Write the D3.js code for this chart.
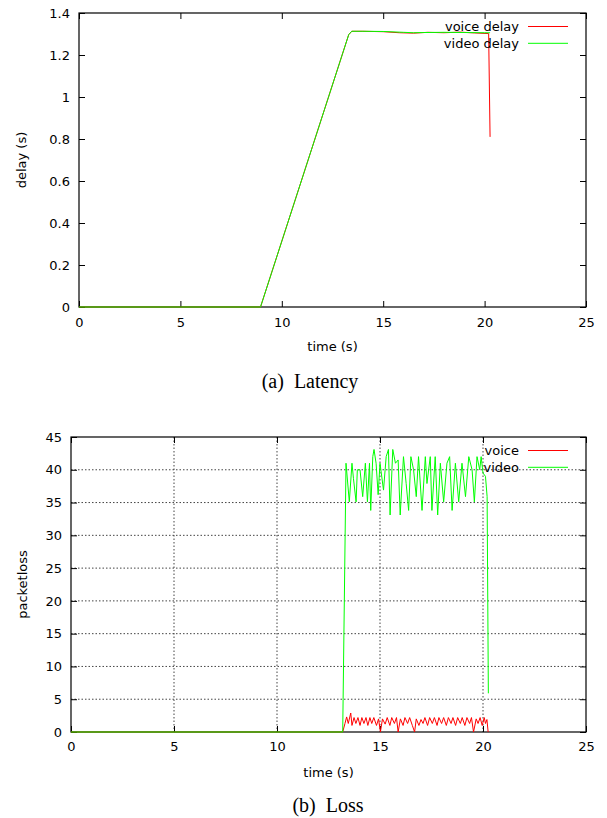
<!DOCTYPE html>
<html>
<head>
<meta charset="utf-8">
<script src="https://cdn.jsdelivr.net/npm/d3@7/dist/d3.min.js"></script>
<style>
    body { margin: 0; background: #fff; }
    svg { display: block; }
    .tick text { font-family: "DejaVu Sans", sans-serif; font-size: 13px; fill: #000; }
    .lbl { font-family: "DejaVu Sans", sans-serif; font-size: 13px; fill: #000; }
    .cap { font-family: "Liberation Serif", serif; font-size: 20px; fill: #000; }
</style>
</head>
<body>
<script>
// (a) latency, seconds
const voiceDelayT = [0, 5, 8.95, 13.3, 13.45, 14, 15, 15.8, 16.5, 17.2, 18, 18.8, 19.5, 20.2, 20.27]
const voiceDelay = [0, 0, 0, 1.297, 1.313, 1.313, 1.311, 1.306, 1.304, 1.308, 1.306, 1.309, 1.305, 1.302, 0.81]
const videoDelayT = [0, 5, 8.95, 13.3, 13.45, 14, 15, 16, 16.5, 17, 18, 19, 20, 20.27]
const videoDelay = [0, 0, 0, 1.297, 1.313, 1.313, 1.312, 1.308, 1.306, 1.307, 1.308, 1.307, 1.306, 1.306]

// (b) loss
const voiceLossT = [0, 13.19, 13.3, 13.38, 13.46, 13.58, 13.64, 13.74, 13.83, 13.93, 14.03, 14.12, 14.22, 14.32, 14.41,
    14.51, 14.6, 14.7, 14.83, 14.93, 15.02, 15.12, 15.25, 15.35, 15.48, 15.57, 15.7, 15.8, 15.88, 15.99, 16.12,
    16.21, 16.34, 16.44, 16.57, 16.68, 16.76, 16.89, 16.99, 17.09, 17.18, 17.31, 17.41, 17.54, 17.64, 17.77,
    17.86, 17.99, 18.09, 18.22, 18.32, 18.45, 18.54, 18.67, 18.77, 18.9, 18.99, 19.12, 19.22, 19.35, 19.44,
    19.54, 19.67, 19.76, 19.86, 19.96, 20.06, 20.12, 20.19, 20.25]
const voiceLoss = [0, 0, 1.3, 2.3, 1.3, 2.9, 1, 2.2, 1.3, 2.2, 1, 2.2, 1.3, 2.2, 1,
    2.2, 1.3, 2.2, 1, 2, 0, 2, 1.2, 2.2, 1, 2.2, 1.3, 2.2, 0, 2, 1,
    2.2, 1.3, 2.2, 1, 0, 2, 1, 1.9, 1.3, 2.2, 1, 2.2, 1.3, 2.2, 1,
    2.2, 1.3, 2.2, 1, 2.2, 1.3, 2.2, 1, 2.2, 1.3, 2.2, 1, 2.2, 1.3, 2.2,
    0, 2, 1.3, 2.2, 1, 2.2, 1.3, 1.9, 0]
const videoLossT = [0, 13.19, 13.35, 13.51, 13.64, 13.71, 13.84, 13.9, 14.03, 14.16, 14.29, 14.39, 14.49, 14.55, 14.65,
    14.71, 14.81, 14.91, 15.0, 15.17, 15.3, 15.41, 15.49, 15.62, 15.75, 15.88, 15.98, 16.14, 16.27, 16.39,
    16.5, 16.63, 16.76, 16.87, 17.04, 17.2, 17.28, 17.44, 17.52, 17.68, 17.8, 17.93, 18.09, 18.25, 18.38,
    18.5, 18.66, 18.82, 18.98, 19.15, 19.31, 19.47, 19.58, 19.71, 19.84, 19.91, 20.0, 20.12, 20.2, 20.26]
const videoLoss = [0, 0, 41, 35.1, 41, 38.7, 35.1, 40, 40, 35.9, 41, 35.1, 41, 33.8, 42,
    43.1, 41, 36.2, 41, 36.9, 42, 43.1, 33.1, 43.1, 41, 41.5, 33.1, 42, 37.9, 33.8,
    42, 40, 35.9, 42, 33.8, 42, 37.9, 42, 33.8, 42, 33.1, 41, 35.1, 41, 42,
    33.8, 41, 35.1, 41, 35.9, 42, 40, 35.1, 42, 40, 42, 39.5, 39, 35.9, 5.9]

const xTicks = [0, 5, 10, 15, 20, 25]
const delayTicks = [0, 0.2, 0.4, 0.6, 0.8, 1, 1.2, 1.4]
const lossTicks = [0, 5, 10, 15, 20, 25, 30, 35, 40, 45]

const svg = d3.select("body").append("svg")
    .attr("width", 607)
    .attr("height", 818)

const zip = (t, v) => t.map((d, i) => ({ t: d, v: v[i] }))

function drawPanel(opt) {
    const { left, top, right, bottom } = opt
    const width = right - left
    const height = bottom - top
    const g = svg.append("g").attr("transform", `translate(${left}, ${top})`)

    const x = d3.scaleLinear().domain([0, 25]).range([0, width])
    const y = d3.scaleLinear().domain(opt.yDomain).range([height, 0])

    // dotted grid
    if (opt.grid) {
        g.selectAll(".vgrid")
            .data(xTicks.slice(1, -1))
            .join("line")
            .attr("x1", d => x(d)).attr("x2", d => x(d))
            .attr("y1", 0).attr("y2", height)
            .attr("stroke", "#444")
            .attr("stroke-width", 1)
            .attr("stroke-dasharray", "1.5,2")
        g.selectAll(".hgrid")
            .data(opt.yTicks.slice(1, -1))
            .join("line")
            .attr("x1", 0).attr("x2", width)
            .attr("y1", d => y(d)).attr("y2", d => y(d))
            .attr("stroke", "#444")
            .attr("stroke-width", 1)
            .attr("stroke-dasharray", "1.5,2")
    }

    // axes, ticks pointing inward
    g.append("g")
        .attr("transform", `translate(0, ${height})`)
        .call(d3.axisBottom(x).tickValues(xTicks).tickSize(-6).tickPadding(opt.xPad))
        .call(a => a.select(".domain").remove())
    g.append("g")
        .call(d3.axisTop(x).tickValues(xTicks).tickSize(-6).tickFormat(""))
        .call(a => a.select(".domain").remove())
    g.append("g")
        .call(d3.axisLeft(y).tickValues(opt.yTicks).tickSize(-6).tickPadding(9).tickFormat(d => String(d)))
        .call(a => a.select(".domain").remove())
    g.append("g")
        .attr("transform", `translate(${width}, 0)`)
        .call(d3.axisRight(y).tickValues(opt.yTicks).tickSize(-6).tickFormat(""))
        .call(a => a.select(".domain").remove())
    g.selectAll(".tick line").attr("stroke", "#000")

    g.append("rect")
        .attr("width", width)
        .attr("height", height)
        .attr("fill", "none")
        .attr("stroke", "#000")
        .attr("stroke-width", 1.2)

    const line = d3.line()
        .x(d => x(d.t))
        .y(d => y(d.v))

    opt.series.forEach(s => {
        g.append("path")
            .datum(s.data)
            .attr("fill", "none")
            .attr("stroke", s.color)
            .attr("stroke-width", 1)
            .attr("stroke-linejoin", "round")
            .attr("d", line)
    })

    // legend (page coordinates: text ends at 519, sample 528..568)
    opt.series.forEach((s, i) => {
        const ly = 13.5 + i * 16.8
        g.append("text")
            .attr("class", "lbl")
            .attr("x", 519 - left)
            .attr("y", ly)
            .attr("dy", "0.35em")
            .attr("text-anchor", "end")
            .text(s.name)
        g.append("line")
            .attr("x1", 528 - left).attr("x2", 568 - left)
            .attr("y1", ly).attr("y2", ly)
            .attr("stroke", s.color)
            .attr("stroke-width", 1)
    })

    // axis labels
    g.append("text")
        .attr("class", "lbl")
        .attr("x", width / 2)
        .attr("y", height + opt.xLabelY)
        .attr("text-anchor", "middle")
        .text("time (s)")
    g.append("text")
        .attr("class", "lbl")
        .attr("transform", "rotate(-90)")
        .attr("x", -height / 2)
        .attr("y", opt.yLabelX - left)
        .attr("dy", "0.35em")
        .attr("text-anchor", "middle")
        .text(opt.yLabel)

    svg.append("text")
        .attr("class", "cap")
        .attr("x", opt.capX)
        .attr("y", opt.capY)
        .attr("text-anchor", "middle")
        .text(opt.caption)
}

drawPanel({
    left: 79, top: 13, right: 586, bottom: 307,
    yDomain: [0, 1.4], yTicks: delayTicks, grid: false,
    xPad: 11, xLabelY: 44, yLabel: "delay (s)", yLabelX: 21,
    series: [
        { name: "voice delay", color: "#ff0000", data: zip(voiceDelayT, voiceDelay) },
        { name: "video delay", color: "#00ff00", data: zip(videoDelayT, videoDelay) }
    ],
    caption: "(a)\u2002Latency", capX: 310, capY: 388
})

drawPanel({
    left: 71, top: 437, right: 586, bottom: 732,
    yDomain: [0, 45], yTicks: lossTicks, grid: true,
    xPad: 10, xLabelY: 45, yLabel: "packetloss", yLabelX: 22,
    series: [
        { name: "voice", color: "#ff0000", data: zip(voiceLossT, voiceLoss) },
        { name: "video", color: "#00ff00", data: zip(videoLossT, videoLoss) }
    ],
    caption: "(b)\u2002Loss", capX: 328, capY: 812
})
</script>
</body>
</html>
